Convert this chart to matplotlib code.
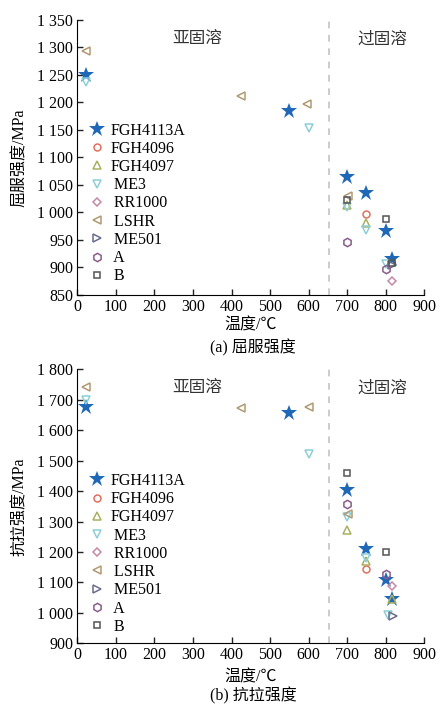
import matplotlib
matplotlib.use("Agg")
import matplotlib.pyplot as plt

plt.rcParams['font.family'] = ['Liberation Serif', 'Noto Sans CJK SC', 'DejaVu Sans']

series_names = ["FGH4113A", "FGH4096", "FGH4097", "ME3", "RR1000", "LSHR", "ME501", "A", "B"]

# (a) yield strength, temperature (℃) and value (MPa) per alloy
ys_fgh4113a_t = [23, 550, 700, 750, 800, 815]
ys_fgh4113a = [1250, 1185, 1064, 1036, 966, 915]
ys_fgh4096_t = [750]
ys_fgh4096 = [997]
ys_fgh4097_t = [700, 750]
ys_fgh4097 = [1013, 981]
ys_me3_t = [23, 600, 700, 750, 800]
ys_me3 = [1237, 1154, 1010, 969, 906]
ys_rr1000_t = [815]
ys_rr1000 = [876]
ys_lshr_t = [22, 425, 597, 702]
ys_lshr = [1294, 1212, 1197, 1030]
ys_me501_t = [815]
ys_me501 = [904]
ys_a_t = [700, 800]
ys_a = [946, 897]
ys_b_t = [700, 800, 815]
ys_b = [1023, 988, 908]

# (b) tensile strength
ts_fgh4113a_t = [23, 550, 700, 750, 800, 815]
ts_fgh4113a = [1675, 1657, 1404, 1210, 1108, 1046]
ts_fgh4096_t = [750]
ts_fgh4096 = [1143]
ts_fgh4097_t = [700, 750, 815]
ts_fgh4097 = [1272, 1170, 1045]
ts_me3_t = [23, 600, 700, 750, 805]
ts_me3 = [1700, 1521, 1314, 1180, 993]
ts_rr1000_t = [815]
ts_rr1000 = [1088]
ts_lshr_t = [22, 425, 600, 702]
ts_lshr = [1741, 1674, 1677, 1326]
ts_me501_t = [820]
ts_me501 = [991]
ts_a_t = [700, 800]
ts_a = [1356, 1129]
ts_b_t = [700, 800]
ts_b = [1460, 1199]

yield_data = [(ys_fgh4113a_t, ys_fgh4113a), (ys_fgh4096_t, ys_fgh4096), (ys_fgh4097_t, ys_fgh4097),
              (ys_me3_t, ys_me3), (ys_rr1000_t, ys_rr1000), (ys_lshr_t, ys_lshr),
              (ys_me501_t, ys_me501), (ys_a_t, ys_a), (ys_b_t, ys_b)]
tensile_data = [(ts_fgh4113a_t, ts_fgh4113a), (ts_fgh4096_t, ts_fgh4096), (ts_fgh4097_t, ts_fgh4097),
                (ts_me3_t, ts_me3), (ts_rr1000_t, ts_rr1000), (ts_lshr_t, ts_lshr),
                (ts_me501_t, ts_me501), (ts_a_t, ts_a), (ts_b_t, ts_b)]

# marker, colour, size per alloy
styles = [
    ('*', '#1f68b8', 12),
    ('o', '#e0705e', 5),
    ('^', '#aab060', 5.5),
    ('v', '#8ccfd8', 5.5),
    ('D', '#c48aa6', 4.5),
    ('<', '#b09a72', 5.5),
    ('>', '#6a6c8c', 5.5),
    ('h', '#8a5c8c', 6),
    ('s', '#555555', 4.5),
]
# the legend in the source has an odd indent for the later names
legend_labels = ["FGH4113A", "FGH4096", "FGH4097", " ME3", " RR1000", " LSHR", " ME501", " A", " B"]


def fmt(v):
    return f"{v:,}".replace(',', ' ')


def draw_panel(ax, data, yticks, ylabel, region_y, legend_y, xpad):
    for (t, v), (mk, col, ms), lab in zip(data, styles, legend_labels):
        if mk == '*':
            ax.plot(t, v, linestyle='none', marker=mk, color=col, markersize=ms,
                    markeredgewidth=0, label=lab, zorder=2)
        else:
            ax.plot(t, v, linestyle='none', marker=mk, markerfacecolor='none',
                    markeredgecolor=col, markersize=ms, markeredgewidth=1.1, label=lab, zorder=3)

    ax.axvline(652, color='#c4c4c4', linestyle=(0, (4, 4)), linewidth=1.2, zorder=1)

    ax.set_xlim(0, 900)
    ax.set_ylim(yticks[0], yticks[-1])
    ax.set_xticks(range(0, 901, 100))
    ax.set_yticks(yticks)
    ax.set_yticklabels([fmt(v) for v in yticks])
    for s in ['top', 'right']:
        ax.spines[s].set_visible(False)
    ax.tick_params(direction='in', length=4, labelsize=11.5, width=1, color='#222222', pad=3)
    ax.set_ylabel(ylabel, fontsize=11.5)
    ax.yaxis.set_label_coords(-0.142, 0.5)
    ax.set_xlabel("温度/℃", fontsize=11.5, labelpad=xpad)

    ax.text(312, region_y, "亚固溶", fontsize=12, ha='center', va='center', color='#333333')
    ax.text(791, region_y, "过固溶", fontsize=12, ha='center', va='center', color='#333333')

    ax.legend(loc='upper left', bbox_to_anchor=(0.035, legend_y), frameon=False, fontsize=11.5,
              handlelength=0.95, handletextpad=0.35, labelspacing=0.14, borderpad=0, borderaxespad=0)


fig = plt.figure(figsize=(4.4, 7.06), dpi=100)

ax1 = fig.add_axes([0.1757, 0.5822, 0.7886, 0.3895])
draw_panel(ax1, yield_data, list(range(850, 1351, 50)), "屈服强度/MPa", 1315, 0.627, 2)
fig.text(0.5757, 0.507, "(a) 屈服强度", fontsize=11.5, ha='center', va='center')

ax2 = fig.add_axes([0.1757, 0.0888, 0.7886, 0.3881])
draw_panel(ax2, tensile_data, list(range(900, 1801, 100)), "抗拉强度/MPa", 1737, 0.622, 4)
fig.text(0.5757, 0.0145, "(b) 抗拉强度", fontsize=11.5, ha='center', va='center')

plt.savefig("out.png", dpi=100)
plt.close()
